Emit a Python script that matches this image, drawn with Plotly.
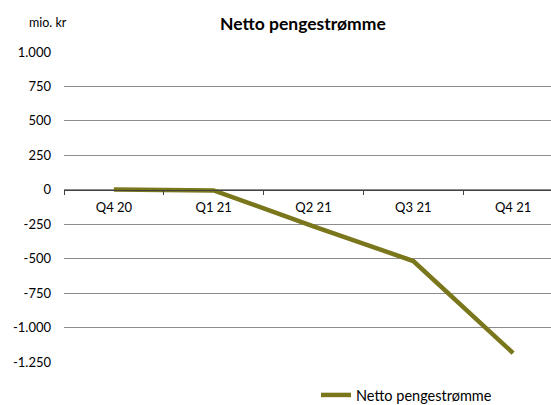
import plotly.graph_objects as go

categories = ["Q4 20", "Q1 21", "Q2 21", "Q3 21", "Q4 21"]
netto = [2, -5, -265, -517, -1185]
series_name = "Netto pengestrømme"
y_tickvals = [1000, 750, 500, 250, 0, -250, -500, -750, -1000, -1250]
y_ticktext = ["1.000", "750", "500", "250", "0", "-250", "-500", "-750", "-1.000", "-1.250"]

FONT = "Lato, 'Open Sans', sans-serif"

fig = go.Figure()
fig.add_trace(go.Scatter(
    x=categories, y=netto, mode="lines", name=series_name,
    line=dict(color="#7a761c", width=4.5),
))

ymin, ymax = -1250, 1000
PL, PT, PB = 64, 52, 362
PH = PB - PT
PW = 551 - PL
fig.update_layout(
    width=551, height=405,
    margin=dict(l=PL, r=0, t=PT, b=405 - PB, autoexpand=False),
    paper_bgcolor="white", plot_bgcolor="white",
    font=dict(family=FONT, size=13, color="#000000"),
    showlegend=True,
    legend=dict(x=(316 - PL) / PW, xanchor="left", y=(PB - 395) / PH, yanchor="middle",
                font=dict(size=14.5, family=FONT), bgcolor="rgba(0,0,0,0)",
                itemwidth=30),
    xaxis=dict(
        type="category", range=[-0.5, 4.38], automargin=False,
        anchor="free", position=(0 - ymin) / (ymax - ymin),
        showline=True, linecolor="#404040", linewidth=1,
        ticks="outside", ticklen=4, tickcolor="#404040", tickson="boundaries",
        ticklabelstandoff=6,
        showgrid=False, zeroline=False,
        tickfont=dict(size=13, family=FONT),
    ),
    yaxis=dict(
        range=[ymin, ymax], tickvals=y_tickvals, ticktext=y_ticktext, automargin=False,
        showgrid=True, gridcolor="#8c8c8c", gridwidth=1,
        zeroline=False, showline=False, ticks="",
        ticklabelstandoff=12,
        tickfont=dict(size=13, family=FONT),
    ),
    annotations=[
        dict(text="mio. kr", xref="paper", yref="paper", x=(48 - PL) / PW, y=(PB - 22) / PH,
             xanchor="center", yanchor="middle", showarrow=False, font=dict(size=12.5, family=FONT)),
        dict(text="<b>Netto pengestrømme</b>", xref="paper", yref="paper", x=(303 - PL) / PW,
             y=(PB - 23) / PH, xanchor="center", yanchor="middle", showarrow=False,
             font=dict(size=17.5, family=FONT)),
    ],
)

fig.write_html("out.html", config={"displayModeBar": False},
               post_script="document.body.style.margin='0px';document.body.style.padding='0px';")
